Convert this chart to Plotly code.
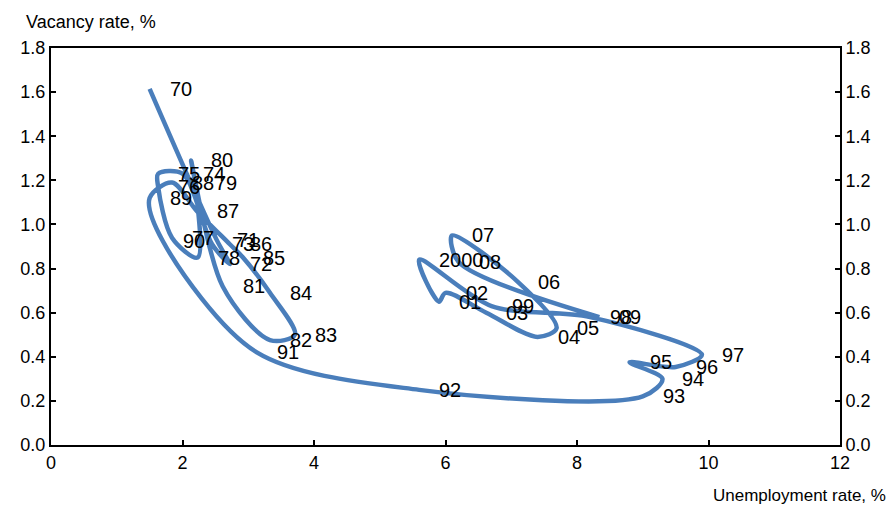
import plotly.graph_objects as go

years = ["70", "71", "72", "73", "74", "75", "76", "77", "78", "79",
         "80", "81", "82", "83", "84", "85", "86", "87", "88", "89",
         "90", "91", "92", "93", "94", "95", "96", "97", "98", "99",
         "2000", "01", "02", "03", "04", "05", "06", "07", "08", "09"]
unemployment = [1.50, 2.52, 2.72, 2.45, 2.00, 1.63, 1.63, 1.84, 2.23, 2.19,
                2.13, 2.61, 3.33, 3.71, 3.33, 2.92, 2.72, 2.22, 1.84, 1.50,
                1.70, 3.13, 5.60, 9.00, 9.30, 8.80, 9.50, 9.90, 8.20, 6.70,
                5.60, 5.90, 6.00, 6.62, 7.40, 7.69, 7.10, 6.10, 6.20, 8.34]
vacancy = [1.615, 0.93, 0.82, 0.91, 1.23, 1.23, 1.17, 0.94, 0.85, 1.19,
           1.29, 0.72, 0.476, 0.50, 0.69, 0.85, 0.91, 1.06, 1.19, 1.12,
           0.925, 0.42, 0.25, 0.22, 0.30, 0.375, 0.354, 0.41, 0.58, 0.63,
           0.84, 0.65, 0.69, 0.60, 0.49, 0.53, 0.74, 0.95, 0.83, 0.58]

x_ticks = [0, 2, 4, 6, 8, 10, 12]
y_ticks = [0.0, 0.2, 0.4, 0.6, 0.8, 1.0, 1.2, 1.4, 1.6, 1.8]

FONT = "Liberation Sans, Arial, sans-serif"
LINE_COLOR = "#4a7ebb"

fig = go.Figure()
fig.add_trace(go.Scatter(
    x=unemployment, y=vacancy, mode="lines",
    line=dict(color=LINE_COLOR, width=4.5, shape="spline", smoothing=0.9),
    showlegend=False, hoverinfo="skip",
))
# invisible trace to activate the right-hand axis
fig.add_trace(go.Scatter(x=[None], y=[None], yaxis="y2", showlegend=False,
                         hoverinfo="skip"))

for xv, yv, t in zip(unemployment, vacancy, years):
    fig.add_annotation(x=xv, y=yv, text=t, showarrow=False,
                       xanchor="left", yanchor="middle", xshift=18,
                       font=dict(family=FONT, size=20, color="black"))

fig.add_annotation(xref="paper", yref="paper", x=-0.034, y=1.066,
                   text="Vacancy rate, %", showarrow=False,
                   xanchor="left", yanchor="middle",
                   font=dict(family=FONT, size=18, color="black"))
fig.add_annotation(xref="paper", yref="paper", x=1.061, y=-0.128,
                   text="Unemployment rate, %", showarrow=False,
                   xanchor="right", yanchor="middle",
                   font=dict(family=FONT, size=17, color="black"))

axis_common = dict(showgrid=False, zeroline=False, showline=True,
                   linecolor="black", linewidth=2, ticks="inside",
                   ticklen=5, tickwidth=1.5, tickcolor="black",
                   tickfont=dict(family=FONT, size=18, color="black"))

fig.update_layout(
    width=892, height=507,
    margin=dict(l=51, r=52, t=48, b=62),
    plot_bgcolor="white", paper_bgcolor="white",
    xaxis=dict(range=[0, 12], tickvals=x_ticks, mirror=True, **axis_common),
    yaxis=dict(range=[0, 1.8], tickvals=y_ticks, tickformat=".1f",
               mirror=True, **axis_common),
    yaxis2=dict(range=[0, 1.8], tickvals=y_ticks, tickformat=".1f",
                overlaying="y", side="right", **axis_common),
)

fig.write_html("out.html",
               config={"displayModeBar": False},
               post_script="document.body.style.margin='0';"
                           "document.body.style.overflow='hidden';")
